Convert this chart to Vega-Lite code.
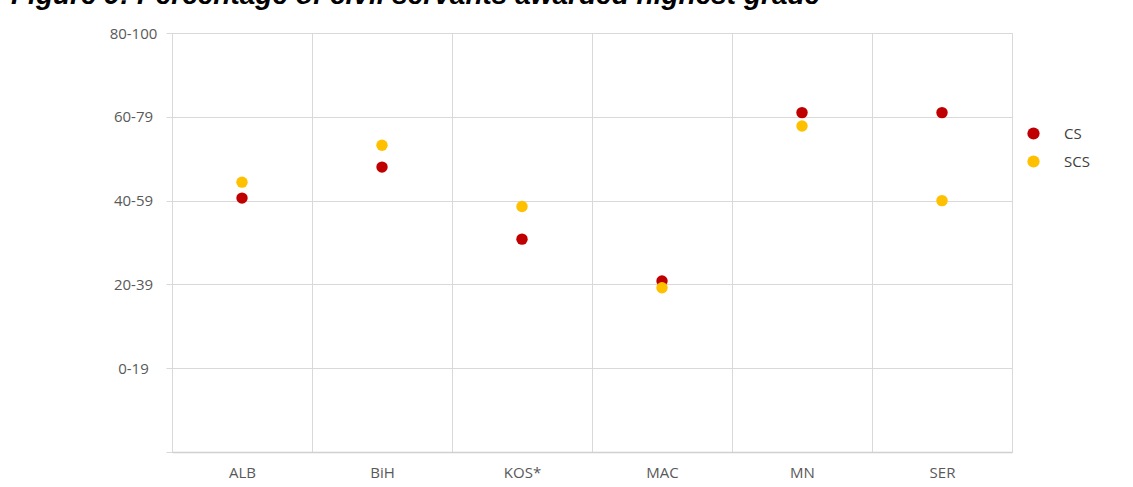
{
  "$schema": "https://vega.github.io/schema/vega-lite/v6.json",
  "width": 840,
  "height": 419,
  "autosize": {"type": "none"},
  "padding": {"left": 172, "top": 33, "right": 121, "bottom": 35},
  "background": "white",
  "title": {
    "text": "Figure 9: Percentage of civil servants awarded highest grade",
    "anchor": "start",
    "frame": "group",
    "dx": -161,
    "dy": 25,
    "offset": 19,
    "baseline": "alphabetic",
    "font": "Liberation Sans",
    "fontSize": 28,
    "fontWeight": "bold",
    "fontStyle": "italic",
    "color": "#000000"
  },
  "data": {
    "values": [
      {"country": "ALB", "series": "CS", "value": 3.03},
      {"country": "BiH", "series": "CS", "value": 3.40},
      {"country": "KOS*", "series": "CS", "value": 2.54},
      {"country": "MAC", "series": "CS", "value": 2.04},
      {"country": "MN", "series": "CS", "value": 4.05},
      {"country": "SER", "series": "CS", "value": 4.05},
      {"country": "ALB", "series": "SCS", "value": 3.22},
      {"country": "BiH", "series": "SCS", "value": 3.66},
      {"country": "KOS*", "series": "SCS", "value": 2.93},
      {"country": "MAC", "series": "SCS", "value": 1.96},
      {"country": "MN", "series": "SCS", "value": 3.89},
      {"country": "SER", "series": "SCS", "value": 3.00}
    ]
  },
  "mark": {"type": "circle", "size": 130, "opacity": 1},
  "encoding": {
    "x": {
      "field": "country",
      "type": "nominal",
      "sort": null,
      "title": null,
      "scale": {"paddingInner": 0, "paddingOuter": 0},
      "axis": {
        "labelAngle": 0,
        "grid": true,
        "tickBand": "extent",
        "gridColor": "#d9d9d9",
        "ticks": false,
        "domain": true,
        "domainColor": "#d0d0d0",
        "domainWidth": 1.5,
        "labelPadding": 13,
        "labelFont": "Open Sans",
        "labelFontSize": 15,
        "labelColor": "#595959"
      }
    },
    "y": {
      "field": "value",
      "type": "quantitative",
      "title": null,
      "scale": {"domain": [0, 5], "nice": false},
      "axis": {
        "values": [0, 1, 2, 3, 4, 5],
        "labelExpr": "datum.value == 5 ? '80-100' : datum.value == 4 ? '60-79' : datum.value == 3 ? '40-59' : datum.value == 2 ? '20-39' : datum.value == 1 ? '0-19' : ''",
        "domain": false,
        "grid": true,
        "gridColor": "#d9d9d9",
        "ticks": true,
        "tickColor": "#d9d9d9",
        "tickSize": 6,
        "labelAlign": "center",
        "labelPadding": 33,
        "labelFont": "Open Sans",
        "labelFontSize": 15,
        "labelColor": "#595959"
      }
    },
    "color": {
      "field": "series",
      "type": "nominal",
      "scale": {"domain": ["CS", "SCS"], "range": ["#C00000", "#FFC000"]},
      "legend": {
        "title": null,
        "orient": "none",
        "legendX": 854,
        "legendY": 93,
        "padding": 0,
        "symbolType": "circle",
        "symbolSize": 150,
        "symbolOpacity": 1,
        "labelOffset": 23,
        "rowPadding": 12,
        "labelFont": "Open Sans",
        "labelFontSize": 15,
        "labelColor": "#404040"
      }
    }
  },
  "config": {
    "view": {"stroke": "#d9d9d9"}
  }
}
